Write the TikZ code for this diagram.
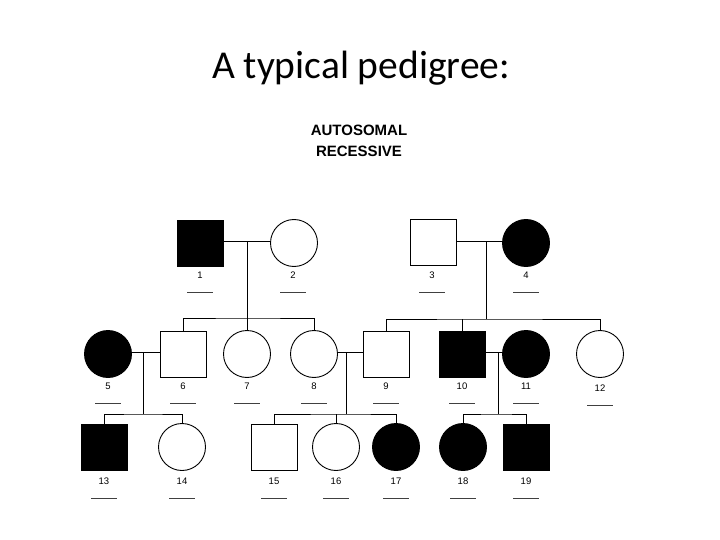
\documentclass[tikz,border=0pt]{standalone}
\usepackage{fontspec}
\setmainfont{Carlito}
\newfontfamily\lab{Liberation Sans}
\usetikzlibrary{calc}
\begin{document}
\begin{tikzpicture}[x=1pt,y=-1pt,
  sym/.style={draw=black,line width=0.9pt,inner sep=0pt},
  male/.style={sym,rectangle,minimum size=46pt,fill=white},
  female/.style={sym,circle,minimum size=47pt,fill=white},
  aff/.style={fill=black},
  idlab/.style={font=\lab\fontsize{9.5}{11}\selectfont,inner sep=0pt},
  hdrtxt/.style={font=\lab\bfseries\fontsize{15}{17}\selectfont,inner sep=0pt},
  uline/.style={draw=black!75,line width=0.8pt},
  conn/.style={draw=black,line width=0.9pt}]
\useasboundingbox (0,0) rectangle (720,540);
\node[font=\fontsize{39.5}{46}\selectfont,anchor=base,inner sep=0pt] (title) at (361,79) {A typical pedigree:};
\node[hdrtxt] (hdr1) at (359,130) {AUTOSOMAL};
\node[hdrtxt] (hdr2) at (359,151) {RECESSIVE};
% Generation I
\node[male,aff] (n1) at (200,243) {};
\node[female] (n2) at (294,243) {};
\node[male] (n3) at (433,242) {};
\node[female,aff] (n4) at (526,243) {};
% Generation II
\node[female,aff] (n5) at (108,354) {};
\node[male] (n6) at (183,354) {};
\node[female] (n7) at (247,354) {};
\node[female] (n8) at (314,354) {};
\node[male] (n9) at (386,354) {};
\node[male,aff] (n10) at (462,354) {};
\node[female,aff] (n11) at (526,354) {};
\node[female] (n12) at (600,354) {};
% Generation III
\node[male,aff] (n13) at (104,447) {};
\node[female] (n14) at (182,447) {};
\node[male] (n15) at (274,447) {};
\node[female] (n16) at (336,447) {};
\node[female,aff] (n17) at (396,447) {};
\node[female,aff] (n18) at (463,447) {};
\node[male,aff] (n19) at (526,447) {};
% labels
\foreach \i/\x/\y in {1/200/275,2/293/275,3/432/275,4/526/275,
  5/108/386,6/183/386,7/247/386,8/314/386,9/386/386,10/462/386,11/526/386,12/600/388,
  13/104/481,14/182/481,15/274/481,16/336/481,17/396/481,18/463/481,19/526/481}{
  \node[idlab] (l\i) at (\x,\y) {\i};
  \draw[uline] ($(\x,\y)+(-13,17)$) -- ($(\x,\y)+(13,17)$);
}
% coordinates
\coordinate (m12) at (247,241);
\coordinate (s12) at (247,318);
\coordinate (m34) at (486,241);
\coordinate (s34) at (486,319);
\coordinate (m56) at (143,352);
\coordinate (s56) at (143,414);
\coordinate (m89) at (346,352);
\coordinate (s89) at (346,414);
\coordinate (m1011) at (498,352);
\coordinate (s1011) at (498,414);
% Generation I couples
\draw[conn] (n1.east |- m12) -- (n2.west |- m12);
\draw[conn] (m12) -- (s12);
\draw[conn] (n3.east |- m34) -- (n4.west |- m34);
\draw[conn] (m34) -- (s34);
% sibships II
\draw[conn] (n6.north) |- (s12) -| (n8.north);
\draw[conn] (s12) -- (n7.north);
\draw[conn] (n9.north) |- (s34) -| (n12.north);
\draw[conn] (n10.north |- s34) -- (n10.north);
% Generation II couples
\draw[conn] (n5.east |- m56) -- (n6.west |- m56);
\draw[conn] (m56) -- (s56);
\draw[conn] (n8.east |- m89) -- (n9.west |- m89);
\draw[conn] (m89) -- (s89);
\draw[conn] (n10.east |- m1011) -- (n11.west |- m1011);
\draw[conn] (m1011) -- (s1011);
% sibships III
\draw[conn] (n13.north) |- (s56) -| (n14.north);
\draw[conn] (n15.north) |- (s89) -| (n17.north);
\draw[conn] (n16.north |- s89) -- (n16.north);
\draw[conn] (n18.north) |- (s1011) -| (n19.north);
\end{tikzpicture}
\end{document}
